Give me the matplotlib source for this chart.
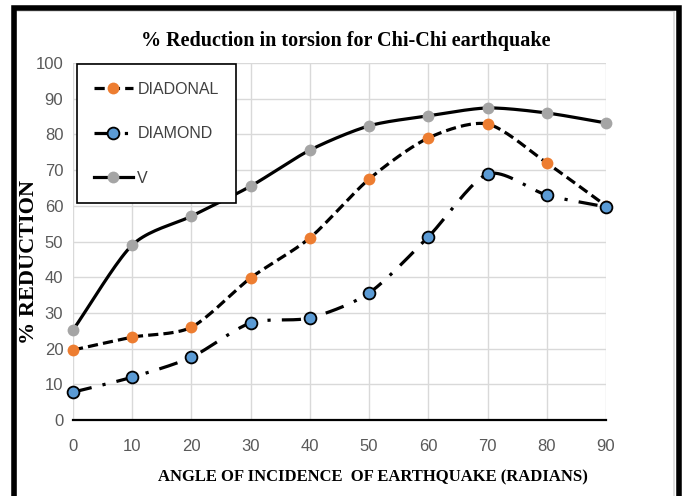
import numpy as np
import matplotlib
matplotlib.use("Agg")
import matplotlib.pyplot as plt
from matplotlib.lines import Line2D
from matplotlib.patches import Rectangle

# angle of incidence (deg) and % reduction in torsion per bracing type
angles = [0, 10, 20, 30, 40, 50, 60, 70, 80, 90]
diadonal = [19.6, 23.2, 26.0, 39.8, 51.0, 67.5, 79.0, 82.9, 72.0, 60.0]
diamond = [7.8, 12.0, 17.6, 27.2, 28.6, 35.6, 51.3, 68.9, 63.0, 59.7]
v_brace = [25.2, 49.0, 57.1, 65.5, 75.6, 82.4, 85.2, 87.4, 86.0, 83.2]
y_ticks = list(range(0, 101, 10))

sans = ['Liberation Sans', 'DejaVu Sans']
serif = ['Liberation Serif', 'DejaVu Serif']


def smooth(x, y, n=20):
    # Catmull-Rom style curve through the points (like a spreadsheet "smoothed line")
    x = np.asarray(x, float)
    y = np.asarray(y, float)
    px = np.concatenate([[2 * x[0] - x[1]], x, [2 * x[-1] - x[-2]]])
    py = np.concatenate([[2 * y[0] - y[1]], y, [2 * y[-1] - y[-2]]])
    xs, ys = [], []
    for i in range(1, len(px) - 2):
        t = np.linspace(0, 1, n, endpoint=False)
        for arr, out in ((px, xs), (py, ys)):
            p0, p1, p2, p3 = arr[i - 1], arr[i], arr[i + 1], arr[i + 2]
            m1 = (p2 - p0) / 2 * 0.8
            m2 = (p3 - p1) / 2 * 0.8
            h00 = 2 * t**3 - 3 * t**2 + 1
            h10 = t**3 - 2 * t**2 + t
            h01 = -2 * t**3 + 3 * t**2
            h11 = t**3 - t**2
            out.extend(h00 * p1 + h10 * m1 + h01 * p2 + h11 * m2)
    xs.append(x[-1])
    ys.append(y[-1])
    return np.array(xs), np.array(ys)


fig = plt.figure(figsize=(6.84, 4.96), dpi=100)
ax = fig.add_axes([0.1067, 0.1532, 0.7793, 0.7198])

series = [
    ('DIADONAL', diadonal, (0, (3.2, 1.6)), '#ED7D31', 'none'),
    ('DIAMOND', diamond, (0, (6, 3.5, 1, 3.5)), '#5B9BD5', 'black'),
    ('V', v_brace, '-', '#A5A5A5', 'none'),
]
handles = []
for name, vals, ls, mc, ec in series:
    sx, sy = smooth(angles, vals)
    ax.plot(sx, sy, color='black', lw=2.3, ls=ls, zorder=3, clip_on=False)
    ax.plot(angles, vals, ls='none', marker='o', ms=8.5, mfc=mc,
            mec=ec, mew=1.3, zorder=4, clip_on=False)
    handles.append(Line2D([], [], color='black', lw=2.3, ls=ls, marker='o',
                          ms=8.5, mfc=mc, mec=ec, mew=1.3))

ax.set_xlim(0, 90)
ax.set_ylim(0, 100)
ax.set_xticks(angles)
ax.set_yticks(y_ticks)
ax.grid(True, color='#D9D9D9', lw=1)
ax.set_axisbelow(True)
for side in ('top', 'right', 'left'):
    ax.spines[side].set_visible(False)
ax.spines['bottom'].set_color('black')
ax.spines['bottom'].set_linewidth(1.6)
ax.tick_params(length=0, labelsize=12, labelcolor='#595959')
ax.tick_params(axis='y', pad=7)
ax.tick_params(axis='x', pad=14)
for lab in ax.get_xticklabels() + ax.get_yticklabels():
    lab.set_family(sans)

ax.set_xlabel('ANGLE OF INCIDENCE  OF EARTHQUAKE (RADIANS)', family=serif,
              fontweight='bold', fontsize=12)
ax.xaxis.set_label_coords(0.562, -0.137)
ax.set_ylabel('% REDUCTION', family=serif, fontweight='bold', fontsize=16)
ax.yaxis.set_label_coords(-0.063, 0.443)

leg = ax.legend(handles, [s[0] for s in series], loc='upper left',
                bbox_to_anchor=(0.007, 0.997), frameon=True, fancybox=False,
                edgecolor='black', framealpha=1, handlelength=2.4,
                labelspacing=1.85, borderpad=1.1, handletextpad=0.3,
                borderaxespad=0, prop={'family': sans, 'size': 11.5})
leg.get_frame().set_linewidth(1.2)
for t in leg.get_texts():
    t.set_color('#404040')

fig.text(0.505, 0.918, '% Reduction in torsion for Chi-Chi earthquake',
         ha='center', va='center', family=serif, fontweight='bold',
         fontsize=14.5)

# chart frame
fig.patches.append(Rectangle((16 / 684, -0.01), 658 / 684, 1 - 11 / 496 + 0.01,
                             transform=fig.transFigure, fill=False,
                             edgecolor='#D9D9D9', lw=1.2))
fig.patches.append(Rectangle((13.5 / 684, -0.05), 665 / 684, 1 - 8.5 / 496 + 0.05,
                             transform=fig.transFigure, fill=False,
                             edgecolor='black', lw=4))

fig.savefig('out.png', dpi=100)
